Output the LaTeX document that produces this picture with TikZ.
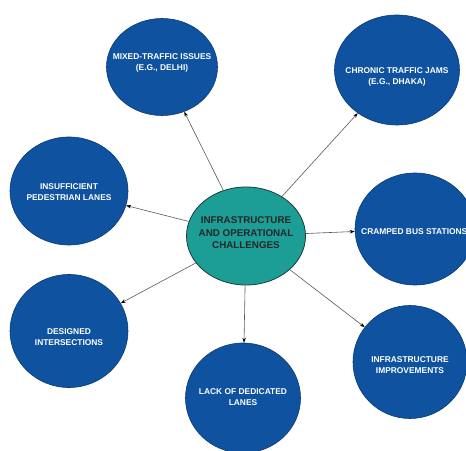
\documentclass[tikz,border=0pt]{standalone}
\usepackage{fontspec}
\setmainfont{Liberation Sans}
\usetikzlibrary{shapes.geometric,arrows.meta}
\definecolor{outerblue}{RGB}{14,82,160}
\definecolor{outerline}{RGB}{10,58,118}
\definecolor{hubteal}{RGB}{28,158,150}
\definecolor{hubline}{RGB}{30,60,58}
\definecolor{linkgray}{RGB}{90,90,90}
\tikzset{
  bubble/.style={ellipse,draw=outerline,line width=0.6pt,fill=outerblue,inner sep=0pt},
  hub/.style={ellipse,draw=hubline,line width=0.8pt,fill=hubteal,inner sep=0pt,minimum width=119pt,minimum height=98pt},
  btext/.style={text=white,font=\bfseries\fontsize{8.4}{11}\selectfont,align=center,inner sep=0pt},
  htext/.style={text=black!85,font=\bfseries\fontsize{9.8}{12.5}\selectfont,align=center,inner sep=0pt},
  link/.style={draw=linkgray,line width=0.6pt,-{Stealth[length=5pt,width=3.5pt,color=black]}}
}
\begin{document}
\begin{tikzpicture}[x=1pt,y=1pt]
\useasboundingbox[fill=white] (0,0) rectangle (466,450);
\node[hub] (hub) at (246,214) {};
\node[bubble,minimum width=111pt,minimum height=97pt] (mix) at (162,383) {};
\node[bubble,minimum width=125pt,minimum height=110pt] (jam) at (397,380) {};
\node[bubble,minimum width=118pt,minimum height=108pt] (ped) at (69,259) {};
\node[bubble,minimum width=120pt,minimum height=112pt] (bus) at (415,221) {};
\node[bubble,minimum width=118pt,minimum height=113pt] (int) at (69,119) {};
\node[bubble,minimum width=115pt,minimum height=110pt] (lane) at (243,52) {};
\node[bubble,minimum width=114pt,minimum height=113pt] (imp) at (410,88) {};
\node[htext] (thub) at (246,217) {INFRASTRUCTURE\\AND OPERATIONAL\\CHALLENGES};
\node[btext] (tmix) at (162,387.5) {MIXED-TRAFFIC ISSUES\\(E.G., DELHI)};
\node[btext] (tjam) at (397,373) {CHRONIC TRAFFIC JAMS\\(E.G., DHAKA)};
\node[btext] (tped) at (69,258) {INSUFFICIENT\\PEDESTRIAN LANES};
\node[btext,anchor=west] (tbus) at (361,218) {CRAMPED BUS STATIONS};
\node[btext] (tint) at (69,113) {DESIGNED\\INTERSECTIONS};
\node[btext] (tlane) at (243,53) {LACK OF DEDICATED\\LANES};
\node[btext] (timp) at (410,85) {INFRASTRUCTURE\\IMPROVEMENTS};
\draw[link] (hub) -- (mix);
\draw[link] (hub) -- (jam);
\draw[link] (hub) -- (ped);
\draw[link] (hub) -- (bus);
\draw[link] (hub) -- (int);
\draw[link] (hub) -- (lane);
\draw[link] (hub) -- (imp);
\end{tikzpicture}
\end{document}
